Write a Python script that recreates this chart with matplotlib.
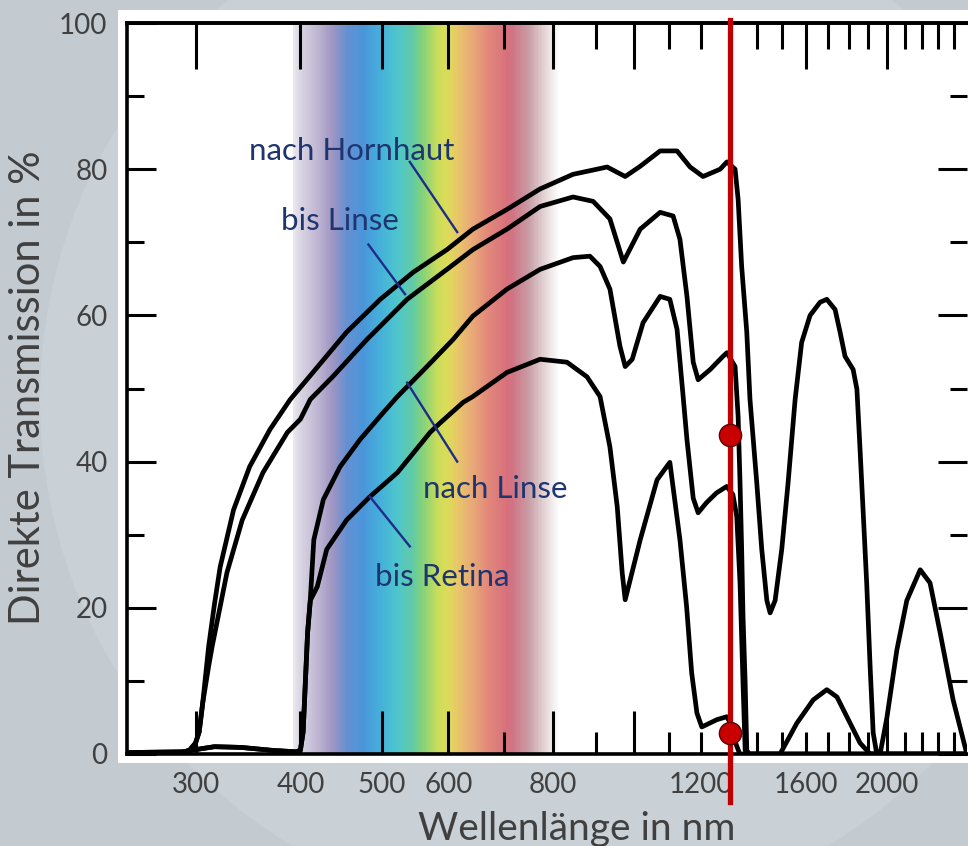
import numpy as np
import matplotlib
matplotlib.use('Agg')
import matplotlib.pyplot as plt
from matplotlib.colors import LinearSegmentedColormap
from matplotlib.patches import Rectangle, Circle
from matplotlib.transforms import IdentityTransform
from matplotlib.ticker import NullFormatter, NullLocator

plt.rcParams['font.family'] = ['Lato', 'DejaVu Sans']

# ---------------- data ----------------
hornhaut_nm = [250, 285, 295, 300, 303, 306, 311, 316, 321, 333, 348, 368, 389, 414, 454, 498, 545,
               598, 642, 705, 772, 845, 928, 975, 1016, 1073, 1124, 1165, 1207, 1265, 1289, 1318,
               1329, 1342, 1361, 1373, 1399, 1418, 1438, 1451, 1471, 1498, 1524, 1554, 1582, 1619,
               1664, 1695, 1734, 1758, 1782, 1822, 1841, 1857, 1874, 1891, 1909, 1925, 1944, 1962,
               1999, 2054, 2111, 2190, 2250, 2313, 2397, 2489]
hornhaut_T = [0, 0, 0.5, 1.5, 3, 7, 14.7, 20.5, 25.6, 33.4, 39.3, 44.4, 48.5, 52.2, 57.7, 62.2, 65.9,
              69, 71.8, 74.5, 77.3, 79.3, 80.3, 79.0, 80.4, 82.5, 82.5, 80.3, 79.0, 80.0, 81.0, 80.0,
              75.9, 66.7, 57.7, 48.5, 37, 28, 21, 19.3, 21, 28, 37, 48.5, 56.3, 60,
              61.8, 62.2, 60.8, 57.7, 54.4, 52.6, 49.9, 41.6, 32.5, 23.4, 11.9, 2.9, 0, 0,
              5, 14.2, 21, 25.2, 23.4, 16.6, 7.4, 0]

bislinse_nm = [250, 285, 295, 300, 303, 306, 311, 314, 327, 341, 361, 386, 400, 411, 437, 480, 536,
               598, 642, 705, 772, 845, 893, 935, 970, 1016, 1073, 1112, 1133, 1155, 1175, 1191,
               1231, 1275, 1289, 1318, 1329, 1336, 1342, 1347, 1355, 1361, 1370, 1491, 1561, 1633,
               1695, 1743, 1791, 1857, 1909, 2490]
bislinse_T = [0, 0, 0.5, 1.5, 3, 7, 12, 14.7, 24.8, 32, 38.5, 44, 45.8, 48.5, 51.6, 56.7, 62.2,
              66.3, 69, 71.8, 74.9, 76.2, 75.6, 73.2, 67.3, 71.8, 74.1, 73.6, 70.4, 62.6, 53.6, 51.2,
              52.6, 54.4, 54.9, 53, 46.2, 37.1, 28, 18.8, 9.7, 0.5, 0, 0, 4.2, 7.4,
              8.8, 7.8, 5.1, 1.5, 0, 0]

nachlinse_nm = [250, 290, 300, 316, 340, 370, 395, 400, 403, 408, 411, 415, 426, 446, 471, 502, 522,
                566, 608, 642, 705, 772, 845, 885, 910, 935, 961, 975, 994, 1024, 1073, 1102, 1124,
                1143, 1155, 1175, 1191, 1219, 1252, 1288, 1310, 1324, 1336, 1347, 1355, 1365, 2490]
nachlinse_T = [0.2, 0.3, 0.6, 1.0, 0.9, 0.5, 0.3, 0.5, 3, 16.6, 21, 29.3, 34.8, 39.3, 43, 46.7, 48.9,
               53, 56.7, 59.9, 63.6, 66.3, 67.9, 68.1, 66.7, 63.6, 55.8, 53, 54, 59, 62.6, 62.2, 58.1,
               48.9, 43, 35, 33, 34.4, 35.7, 36.6, 35.5, 32.5, 23.4, 9.7, 0.5, 0, 0]

bisretina_nm = [250, 290, 300, 316, 340, 370, 395, 400, 403, 408, 411, 419, 430, 454, 484, 522, 571,
                587, 625, 642, 705, 772, 831, 878, 910, 935, 954, 967, 975, 1016, 1064, 1102, 1133,
                1154, 1170, 1187, 1203, 1254, 1288, 1305, 1320, 1335, 2490]
bisretina_T = [0.2, 0.3, 0.6, 1.0, 0.9, 0.5, 0.3, 0.5, 3, 16.6, 21, 22.9, 28, 32, 35.2, 38.5, 44,
               45.3, 48.1, 48.9, 52.2, 54, 53.6, 51.6, 48.9, 42, 33.8, 24.8, 21.1, 29.3, 37.5, 39.9, 29.3,
               20.1, 11.1, 5.6, 3.7, 4.7, 5.1, 4, 1.5, 0, 0]

# labels: (text, text position nm, %, leader from (nm,%) to (nm,%))
label_texts = ['nach Hornhaut', 'bis Linse', 'nach Linse', 'bis Retina']
label_pos_nm = [461, 446, 682, 590]
label_pos_T = [82.5, 72.9, 36.3, 24.2]
leader_nm = [(540, 615), (482, 533), (536, 615), (484, 540)]
leader_T = [(81, 71.4), (69.7, 62.9), (50.8, 40), (35.2, 28.4)]

marker_nm = 1300
marker_T = [43.7, 2.9]

x_label_ticks = [300, 400, 500, 600, 800, 1200, 1600, 2000]
x_major_bottom = [300, 400, 500, 600, 800, 1000, 2000]
x_minor_bottom = [700, 900, 1100, 1200, 1300, 1400, 1500, 1600, 1700, 1800, 1900, 2100, 2200, 2300, 2400]
x_major_top = [300, 400, 500, 600, 800, 1000, 1600, 2000]
x_minor_top = [700, 900, 1100, 1200, 1300, 1400, 1500, 1700, 1800, 1900, 2100, 2200, 2300, 2400]
y_major = [0, 20, 40, 60, 80, 100]
y_minor = [10, 30, 50, 70, 90]

spec_nm = [392, 400, 421, 437, 454, 475, 498, 522, 545, 560, 582, 598, 615, 642, 668, 705, 717, 751, 787, 816]
spec_col = ['#ebe8ef', '#d9d4e2', '#bcb2d0', '#9d94c2', '#6590d2', '#4a95da', '#45b0da', '#4ec6cc',
            '#62cba4', '#86d27a', '#c8dc5c', '#dcdc58', '#e8c868', '#e8a878', '#e28a7a', '#d8707c',
            '#d07484', '#c8a0a8', '#e8dcdc', '#ffffff']

# ---------------- figure ----------------
W, H = 968, 846
fig = plt.figure(figsize=(W / 100, H / 100), dpi=100)
fig.patch.set_facecolor('#c3cbd1')
fig.add_artist(Circle((560, H - 400), 520, transform=IdentityTransform(),
                      facecolor='#cad1d6', edgecolor='none', zorder=-3))
fig.add_artist(Rectangle((118 / W, 1 - 763 / H), (W - 118) / W, (763 - 10) / H,
                         transform=fig.transFigure, facecolor='white', edgecolor='none', zorder=-1))

ax = fig.add_axes([127 / W, 1 - 754 / H, (967 - 127) / W, (754 - 23) / H])
ax.set_facecolor('white')
ax.set_xscale('log')
ax.set_xlim(248.6, 2490)
ax.set_ylim(0, 100)

# spectrum band
lx = np.log(spec_nm)
pos = (lx - lx[0]) / (lx[-1] - lx[0])
cmap = LinearSegmentedColormap.from_list('spec', list(zip(pos, spec_col)))
edges = np.geomspace(spec_nm[0], spec_nm[-1], 600)
centers = np.sqrt(edges[:-1] * edges[1:])
Z = ((np.log(centers) - lx[0]) / (lx[-1] - lx[0]))[None, :]
ax.pcolormesh(edges, [0, 100], Z, cmap=cmap, vmin=0, vmax=1, shading='flat', zorder=0)

for lam, T in [(hornhaut_nm, hornhaut_T), (bislinse_nm, bislinse_T),
               (nachlinse_nm, nachlinse_T), (bisretina_nm, bisretina_T)]:
    ax.plot(lam, T, color='black', lw=3.4, solid_capstyle='round', solid_joinstyle='round', zorder=3)

for txt, px, py, lnm, lt in zip(label_texts, label_pos_nm, label_pos_T, leader_nm, leader_T):
    ax.text(px, py, txt, ha='center', va='center', fontsize=22.5, color='#1f3570', zorder=4)
    ax.plot(lnm, lt, color='#1f2d8a', lw=1.7, zorder=4)

ax.axvline(marker_nm, ymin=-0.066, ymax=1.004, color='#c00000', lw=3.8, clip_on=False, zorder=5)
ax.plot([marker_nm] * len(marker_T), marker_T, 'o', ms=16, mfc='#c80000', mec='#600000',
        mew=1.0, zorder=6, clip_on=False)

# spines
for s in ax.spines.values():
    s.set_linewidth(2.6)
    s.set_color('black')
ax.spines['right'].set_visible(False)

# bottom tick marks
ax.set_xticks(x_major_bottom)
ax.set_xticks(x_minor_bottom, minor=True)
ax.xaxis.set_major_formatter(NullFormatter())
ax.xaxis.set_minor_formatter(NullFormatter())
ax.tick_params(axis='x', which='major', direction='in', length=31, width=2.2, top=False, bottom=True)
ax.tick_params(axis='x', which='minor', direction='in', length=16, width=2.2, top=False, bottom=True)

# top tick marks
sec_top = ax.secondary_xaxis('top')
sec_top.set_xticks(x_major_top)
sec_top.set_xticks(x_minor_top, minor=True)
sec_top.xaxis.set_major_formatter(NullFormatter())
sec_top.xaxis.set_minor_formatter(NullFormatter())
sec_top.tick_params(axis='x', which='major', direction='in', length=33, width=2.2)
sec_top.tick_params(axis='x', which='minor', direction='in', length=19, width=2.2)
sec_top.spines['top'].set_linewidth(2.6)

# bottom labels
sec_bot = ax.secondary_xaxis('bottom')
sec_bot.set_xticks(x_label_ticks)
sec_bot.set_xticklabels([str(v) for v in x_label_ticks])
sec_bot.xaxis.set_minor_locator(NullLocator())
sec_bot.tick_params(axis='x', which='major', length=0, pad=13, labelsize=20, labelcolor='#404040')
sec_bot.spines['bottom'].set_visible(False)

# y ticks
ax.set_yticks(y_major)
ax.set_yticks(y_minor, minor=True)
ax.tick_params(axis='y', which='major', direction='in', length=21, width=2.2, left=True, right=True,
               pad=14, labelsize=20, labelcolor='#404040')
ax.tick_params(axis='y', which='minor', direction='in', length=12, width=2.2, left=True, right=True)

fig.text(28 / W, 1 - 388 / H, 'Direkte Transmission in %', rotation=90, ha='center', va='center',
         fontsize=30, color='#404040')
fig.text(577 / W, 1 - 840 / H, 'Wellenlänge in nm', ha='center', va='baseline',
         fontsize=28, color='#404040')

fig.savefig('out.png', dpi=100, facecolor=fig.get_facecolor())
